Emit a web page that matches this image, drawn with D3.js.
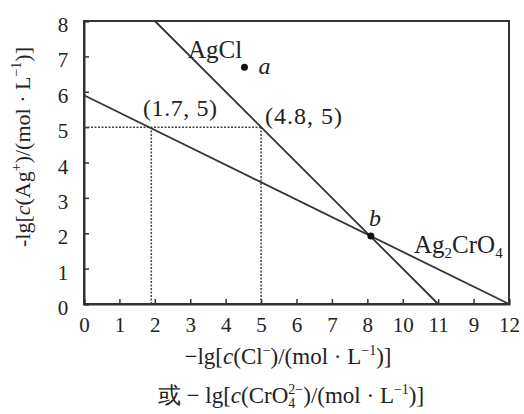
<!DOCTYPE html>
<html>
<head>
<meta charset="utf-8">
<script src="https://cdn.jsdelivr.net/npm/d3@7"></script>
<style>
  body { margin: 0; background: #fff; }
</style>
</head>
<body>
<div id="chart"></div>
<script>
// tick values and labels (x labels copied as printed)
var xTicks = [0, 1, 2, 3, 4, 5, 6, 7, 8, 9, 10, 11, 12];
var xTickLabels = ['0', '1', '2', '3', '4', '5', '6', '7', '8', '10', '11', '9', '12'];
var yTicks = [0, 1, 2, 3, 4, 5, 6, 7, 8];

// the two lines
var agclLine = [[2, 8], [10, 0]];
var ag2cro4Line = [[0, 5.9], [12, 0]];

// dotted guides
var guideH = [[0, 5], [5, 5]];
var guideV1 = [[1.9, 0], [1.9, 5]];
var guideV2 = [[5, 0], [5, 5]];

// points
var pointNames = ['a', 'b'];
var pointX = [4.53, 8.1];
var pointY = [6.69, 1.92];

var width = 524, height = 414;
var margin = { top: 21, right: 15, bottom: 110, left: 84 };
var serif = "'Liberation Serif', serif";

var svg = d3.select('#chart').append('svg')
    .attr('width', width)
    .attr('height', height)
    .attr('font-family', serif)
    .attr('fill', '#222');

var x = d3.scaleLinear().domain([0, 12]).range([margin.left, width - margin.right]);
var y = d3.scaleLinear().domain([0, 8]).range([height - margin.bottom, margin.top]);

var ink = '#333';

// frame
svg.append('rect')
    .attr('x', x(0)).attr('y', y(8))
    .attr('width', x(12) - x(0)).attr('height', y(0) - y(8))
    .attr('fill', 'none').attr('stroke', ink).attr('stroke-width', 2);

// axes with inward ticks
var xAxis = svg.append('g')
    .attr('transform', 'translate(0,' + y(0) + ')')
    .call(d3.axisBottom(x).tickValues(xTicks).tickSize(-5).tickPadding(13)
        .tickFormat(function (d, i) { return xTickLabels[i]; }));
var yAxis = svg.append('g')
    .attr('transform', 'translate(' + x(0) + ',0)')
    .call(d3.axisLeft(y).tickValues(yTicks).tickSize(-5).tickPadding(21));

[xAxis, yAxis].forEach(function (g) {
    g.attr('font-family', serif).attr('font-size', 21);
    g.select('.domain').attr('stroke', ink).attr('stroke-width', 2);
    g.selectAll('.tick line').attr('stroke', ink).attr('stroke-width', 1.5);
    g.selectAll('.tick text').attr('fill', '#222');
});
yAxis.selectAll('.tick text').attr('text-anchor', 'middle').attr('dy', '0.5em');

var line = d3.line().x(function (d) { return x(d[0]); }).y(function (d) { return y(d[1]); });

[guideH, guideV1, guideV2].forEach(function (g) {
    svg.append('path').attr('d', line(g))
        .attr('fill', 'none').attr('stroke', '#444').attr('stroke-width', 1.5)
        .attr('stroke-dasharray', '2,1.5');
});

[agclLine, ag2cro4Line].forEach(function (l) {
    svg.append('path').attr('d', line(l))
        .attr('fill', 'none').attr('stroke', ink).attr('stroke-width', 1.8);
});

// points
svg.selectAll('circle.pt')
    .data(pointNames)
    .enter().append('circle')
    .attr('cx', function (d, i) { return x(pointX[i]); })
    .attr('cy', function (d, i) { return y(pointY[i]); })
    .attr('r', 3.5)
    .attr('fill', '#111');

svg.append('text').attr('x', x(pointX[0]) + 14).attr('y', y(pointY[0]) + 7)
    .attr('font-size', 24).attr('font-style', 'italic').text('a');
svg.append('text').attr('x', x(pointX[1]) - 2).attr('y', y(pointY[1]) - 10)
    .attr('font-size', 24).attr('font-style', 'italic').text('b');

// annotations
svg.append('text').attr('x', 188).attr('y', 58).attr('font-size', 25).text('AgCl');
svg.append('text').attr('x', 143).attr('y', 116).attr('font-size', 24)
    .attr('textLength', 74).text('(1.7, 5)');
svg.append('text').attr('x', 265).attr('y', 124).attr('font-size', 24)
    .attr('textLength', 77).text('(4.8, 5)');

var lab = svg.append('text').attr('x', 414).attr('y', 253).attr('font-size', 25);
lab.append('tspan').text('Ag');
lab.append('tspan').attr('dy', 5).attr('font-size', 15).text('2');
lab.append('tspan').attr('dy', -5).text('CrO');
lab.append('tspan').attr('dy', 5).attr('font-size', 15).text('4');

// axis titles: parts with optional italic / superscript / stacked sub+sup;
// the baseline offset is handed back on the following part
function addParts(t, parts) {
    var back = 0;
    parts.forEach(function (p) {
        var s;
        if (p.sup) {
            s = t.append('tspan').attr('dy', back - 9).attr('font-size', 14).text(p.t);
            back = 9;
        } else if (p.stack) {
            t.append('tspan').attr('dy', back + 5).attr('font-size', 14).text(p.sub);
            s = t.append('tspan').attr('dx', -7).attr('dy', -14).attr('font-size', 14).text(p.t);
            back = 9;
        } else {
            s = t.append('tspan').attr('dy', back).text(p.t);
            if (p.i) s.attr('font-style', 'italic');
            back = 0;
        }
    });
}

var yTitle = svg.append('text')
    .attr('transform', 'translate(30,147) rotate(-90)')
    .attr('text-anchor', 'middle').attr('font-size', 22);
addParts(yTitle, [{ t: '-lg[' }, { t: 'c', i: true }, { t: '(Ag' }, { t: '+', sup: true },
    { t: ')/(mol · L' }, { t: '−1', sup: true }, { t: ')]' }]);

var xTitle1 = svg.append('text').attr('x', 288).attr('y', 364)
    .attr('text-anchor', 'middle').attr('font-size', 23);
addParts(xTitle1, [{ t: '−lg[' }, { t: 'c', i: true }, { t: '(Cl' }, { t: '−', sup: true },
    { t: ')/(mol · L' }, { t: '−1', sup: true }, { t: ')]' }]);

var xTitle2 = svg.append('text').attr('x', 291).attr('y', 403)
    .attr('text-anchor', 'middle').attr('font-size', 23);
addParts(xTitle2, [{ t: '或 − lg[' }, { t: 'c', i: true }, { t: '(CrO' }, { t: '2−', sub: '4', stack: true },
    { t: ')/(mol · L' }, { t: '−1', sup: true }, { t: ')]' }]);
</script>
</body>
</html>
